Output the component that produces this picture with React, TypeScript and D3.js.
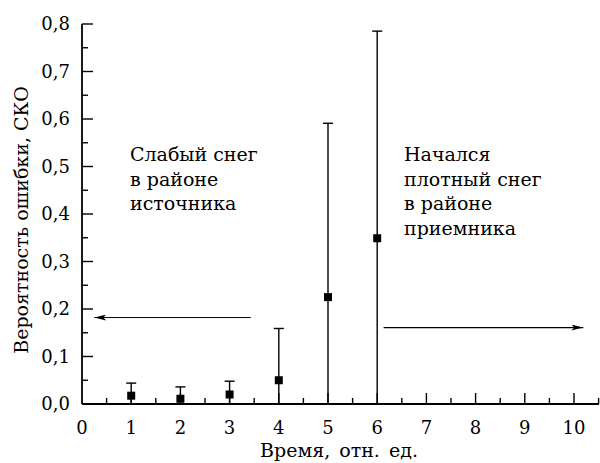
import React from 'react';
import * as d3 from 'd3';

const times = [1, 2, 3, 4, 5, 6];
const means = [0.0175, 0.011, 0.02, 0.05, 0.225, 0.349];
const upper = [0.044, 0.036, 0.048, 0.159, 0.591, 0.785];
const xTicks = [0, 1, 2, 3, 4, 5, 6, 7, 8, 9, 10];
const yTicks = [0, 0.1, 0.2, 0.3, 0.4, 0.5, 0.6, 0.7, 0.8];
const leftNote = ['Слабый снег', 'в районе', 'источника'];
const rightNote = ['Начался', 'плотный снег', 'в районе', 'приемника'];
const leftArrow = { y: 0.182, from: 3.43, to: 0.25 };
const rightArrow = { y: 0.161, from: 6.13, to: 10.19 };

const W = 600;
const H = 463;

const App: React.FC = () => {
  const x = d3.scaleLinear().domain([0, 10]).range([82, 574]);
  const y = d3.scaleLinear().domain([0, 0.8]).range([404, 24]);
  const fmt = (v: number) => d3.format('.1f')(v).replace('.', ',');

  const xMinor = d3.range(0.5, 10.6, 1);
  const yMinor = d3.range(0.05, 0.8, 0.1);

  return (
    <svg
      width={W}
      height={H}
      style={{ position: 'absolute', left: 0, top: 0, background: '#fff', fontFamily: "'DejaVu Serif', serif" }}
    >
      <defs>
        <marker id="ah" viewBox="0 0 12 6" refX="12" refY="3" markerWidth="12" markerHeight="6" markerUnits="userSpaceOnUse" orient="auto">
          <path d="M0,0 L12,3 L0,6 L3,3 Z" fill="#000" />
        </marker>
      </defs>
      <g fill="#000">
        {/* axes */}
        <line x1={x(0)} y1={y(0)} x2={599} y2={y(0)} stroke="#000" strokeWidth={1.8} />
        <line x1={x(0)} y1={y(0)} x2={x(0)} y2={y(0.8)} stroke="#000" strokeWidth={1.8} />
        {xTicks.map((t) => (
          <g key={'xt' + t}>
            {t > 0 && <line x1={x(t)} x2={x(t)} y1={y(0)} y2={y(0) - 11} stroke="#000" strokeWidth={1.4} />}
            <text x={x(t)} y={434} fontSize={18} textAnchor="middle">{t}</text>
          </g>
        ))}
        {xMinor.map((t) => (
          <line key={'xm' + t} x1={x(t)} x2={x(t)} y1={y(0)} y2={y(0) - 6} stroke="#000" strokeWidth={1.4} />
        ))}
        {yTicks.map((t) => (
          <g key={'yt' + t}>
            <line x1={x(0)} x2={x(0) + 11} y1={y(t)} y2={y(t)} stroke="#000" strokeWidth={1.4} />
            <text x={70} y={y(t) + 6} fontSize={18} textAnchor="end">{fmt(t)}</text>
          </g>
        ))}
        {yMinor.map((t) => (
          <line key={'ym' + t} x1={x(0)} x2={x(0) + 6} y1={y(t)} y2={y(t)} stroke="#000" strokeWidth={1.4} />
        ))}

        {/* error bars and points */}
        {times.map((t, i) => {
          const err = upper[i] - means[i];
          const lo = Math.max(0, means[i] - err);
          return (
            <g key={'p' + t}>
              <line x1={x(t)} x2={x(t)} y1={y(lo)} y2={y(upper[i])} stroke="#000" strokeWidth={1.4} />
              <line x1={x(t) - 5} x2={x(t) + 5} y1={y(upper[i])} y2={y(upper[i])} stroke="#000" strokeWidth={1.4} />
              <rect x={x(t) - 4} y={y(means[i]) - 4} width={8} height={8} fill="#000" />
            </g>
          );
        })}

        {/* arrows */}
        <line x1={x(leftArrow.from)} x2={x(leftArrow.to)} y1={y(leftArrow.y)} y2={y(leftArrow.y)} stroke="#000" strokeWidth={1} markerEnd="url(#ah)" />
        <line x1={x(rightArrow.from)} x2={x(rightArrow.to)} y1={y(rightArrow.y)} y2={y(rightArrow.y)} stroke="#000" strokeWidth={1.3} markerEnd="url(#ah)" />

        {/* notes */}
        <text x={130} y={161} fontSize={19}>
          {leftNote.map((s, i) => (
            <tspan key={s} x={130} dy={i === 0 ? 0 : 24.5}>{s}</tspan>
          ))}
        </text>
        <text x={404} y={161} fontSize={19}>
          {rightNote.map((s, i) => (
            <tspan key={s} x={404} dy={i === 0 ? 0 : 24.5}>{s}</tspan>
          ))}
        </text>

        {/* axis titles */}
        <text x={339} y={457} fontSize={19} textAnchor="middle" wordSpacing={3}>Время, отн. ед.</text>
        <text transform="translate(28,220) rotate(-90)" fontSize={19} textAnchor="middle">Вероятность ошибки, СКО</text>
      </g>
    </svg>
  );
};

export default App;
